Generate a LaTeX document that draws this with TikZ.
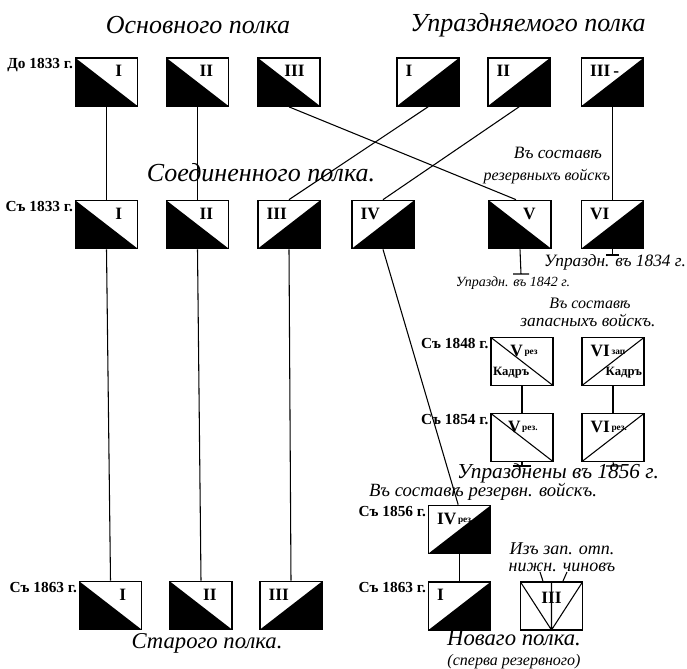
\documentclass[tikz,border=0pt]{standalone}
\usepackage{fontspec}
\setmainfont{Liberation Serif}
\usetikzlibrary{positioning}

\tikzset{
  unit/.style={draw, line width=1.3pt, minimum width=46.5pt, minimum height=36pt, inner sep=0pt},
  darkleft/.style={unit, path picture={\fill (path picture bounding box.north west) -- (path picture bounding box.south west) -- (path picture bounding box.south east) -- cycle;}},
  darkright/.style={unit, path picture={\fill (path picture bounding box.south west) -- (path picture bounding box.south east) -- (path picture bounding box.north east) -- cycle;}},
  cutdown/.style={unit, path picture={\draw[line width=0.8pt] (path picture bounding box.north west) -- (path picture bounding box.south east);}},
  cutup/.style={unit, path picture={\draw[line width=0.8pt] (path picture bounding box.south west) -- (path picture bounding box.north east);}},
  cutfan/.style={unit, path picture={\draw[line width=0.8pt] (path picture bounding box.north west) -- (path picture bounding box.south) -- (path picture bounding box.north east) (path picture bounding box.north) -- (path picture bounding box.south);}},
  roman/.style={font=\bfseries\fontsize{13}{13}\selectfont, inner sep=0pt},
  romanNE/.style={label={[roman, anchor=north east, inner xsep=12pt, inner ysep=6pt]north east:#1}},
  romanNW/.style={label={[roman, anchor=north west, inner xsep=7pt, inner ysep=6pt]north west:#1}},
  kadrSW/.style={label={[kadr, anchor=south west]south west:Кадръ}},
  kadrSE/.style={label={[kadr, anchor=south east]south east:Кадръ}},
  kadr/.style={font=\bfseries\fontsize{9.5}{9.5}\selectfont, inner xsep=2pt, inner ysep=6pt},
  heading/.style={font=\itshape\fontsize{19.5}{19.5}\selectfont, inner sep=0.75pt},
  remark/.style={font=\itshape\fontsize{13}{13}\selectfont, inner sep=0.75pt},
  since/.style={font=\bfseries\fontsize{11.5}{11.5}\selectfont, inner sep=1pt, anchor=north east},
  link/.style={line width=0.8pt},
}
\newcommand{\rezsub}[1]{{\fontsize{7}{7}\selectfont\,\raisebox{1.5pt}{#1}}}

\begin{document}
\begin{tikzpicture}[x=0.75pt,y=0.75pt,yscale=-1,xscale=1]
\useasboundingbox (0,0) rectangle (687,669);

%Units before 1833
\node[darkleft, romanNE=I] (o1) at (106.5,82) {};
\node[darkleft, romanNE=II] (o2) at (197.5,82) {};
\node[darkleft, romanNE=III] (o3) at (289,82) {};
\node[darkright, romanNW=I] (u1) at (428,82) {};
\node[darkright, romanNW=II] (u2) at (519,82) {};
\node[darkright, romanNW=III\,-] (u3) at (612.5,82) {};

%Units from 1833
\node[darkleft, romanNE=I] (c1) at (106.5,224.5) {};
\node[darkleft, romanNE=II] (c2) at (197.5,224.5) {};
\node[darkright, romanNW=III] (c3) at (289,224.5) {};
\node[darkright, romanNW=IV] (c4) at (383,224.5) {};
\node[darkleft, romanNE=V] (c5) at (520,224.5) {};
\node[darkright, romanNW=VI] (c6) at (612.5,224.5) {};

%Reserve units
\node[cutdown, romanNE={V\rezsub{рез}}, kadrSW] (r5a) at (522,361.5) {};
\node[cutup, romanNW={VI\rezsub{зап}}, kadrSE] (r6a) at (613,361.5) {};
\node[cutdown, romanNE={V\rezsub{рез.}}] (r5b) at (522,437.5) {};
\node[cutup, romanNW={VI\rezsub{рез.}}] (r6b) at (613,437.5) {};
\node[darkright, romanNW={IV\rezsub{рез.}}] (r4) at (459.5,529.5) {};

%Units from 1863
\node[darkleft, romanNE=I] (s1) at (110.5,605.5) {};
\node[darkleft, romanNE=II] (s2) at (201,605.5) {};
\node[darkright, romanNW=III] (s3) at (291,605.5) {};
\node[darkright, romanNW=I] (n1) at (459.5,606) {};
\node[cutfan] (n3) at (551.5,606) {};
\node[roman] (n3num) at (551.5,598) {III};

%Stops and free ends
\coordinate (e5) at (521,274);
\coordinate (e6) at (612.5,255);
\coordinate (e5b) at (522,466);
\coordinate (e6b) at (614,466);
\coordinate (i1) at (540,572);
\coordinate (i2) at (567,572);

%Straight Lines
\draw[link] (o1.south) -- (c1.north);
\draw[link] (o2.south) -- (c2.north);
\draw[link] (o3.south) -- ([xshift=-3pt]c5.north);
\draw[link] (u1.south) -- (c3.north);
\draw[link] (u2.south) -- (c4.north);
\draw[link] (u3.south) -- (c6.north);
\draw[link] (c1.south) -- (s1.north);
\draw[link] (c2.south) -- (s2.north);
\draw[link] (c3.south) -- (s3.north);
\draw[link] (c4.south) -- ([xshift=-1pt]r4.north);
\draw[link] (c5.south) -- (e5) ++(-6pt,0) -- ++(12pt,0);
\draw[link] (c6.south) -- (e6) ++(-5pt,0) -- ++(10pt,0);
\draw[link] (r5a.south) -- (r5b.north);
\draw[link] (r6a.south) -- (r6b.north);
\draw[link] (r5b.south) -- (e5b) ++(-7pt,0) -- ++(14pt,0);
\draw[link] (r6b.south) -- (e6b) ++(-6pt,0) -- ++(12pt,0);
\draw[link] (r4.south) -- (n1.north);
\draw[link] (i1) -- ([xshift=-6.4pt]n3.north);
\draw[link] (i2) -- ([xshift=8.6pt]n3.north);

% Text Node
\node[heading] (tmain) at (198,25) {Основного полка};
\node[heading] (tabol) at (528,25) {Упраздняемого полка};
\node[heading] (tjoin) at (261,173) {Соединенного полка.};
\node[heading, font=\itshape\fontsize{17}{17}\selectfont] (told) at (207,643) {Старого полка.};
\node[heading, align=center, font=\itshape\fontsize{17}{15}\selectfont] (tnew) at (514,650) {Новаго полка.\\{\fontsize{12}{12}\selectfont(сперва резервного)}};
\node[remark] (tres1) at (558,153) {Въ составѣ};
\node[remark, font=\itshape\fontsize{12}{12}\selectfont] (tres2) at (547,177) {резервныхъ войскъ};
\node[remark] (tab34) at (615,262) {Упраздн. въ 1834 г.};
\node[remark, font=\itshape\fontsize{10.5}{10.5}\selectfont] (tab42) at (513,283) {Упраздн. въ 1842 г.};
\node[remark, font=\itshape\fontsize{12}{12}\selectfont] (tzap1) at (590,303) {Въ составѣ};
\node[remark] (tzap2) at (588,320) {запасныхъ войскъ.};
\node[remark, font=\itshape\fontsize{16}{16}\selectfont] (tab56) at (558,473) {Упразднены въ 1856 г.};
\node[remark, font=\itshape\fontsize{14}{14}\selectfont] (tres3) at (483,492) {Въ составѣ резервн. войскъ.};
\node[remark, align=center, font=\itshape\fontsize{13.5}{12.5}\selectfont] (tfrom) at (562,557) {Изъ зап. отп.\\нижн. чиновъ};

% Year Nodes
\node[since] (y1) at (o1.north west) {До 1833 г.};
\node[since] (y2) at (c1.north west) {Съ 1833 г.};
\node[since] (y3) at (s1.north west) {Съ 1863 г.};
\node[since] (y4) at (r5a.north west) {Съ 1848 г.};
\node[since] (y5) at (r5b.north west) {Съ 1854 г.};
\node[since] (y6) at (r4.north west) {Съ 1856 г.};
\node[since] (y7) at (n1.north west) {Съ 1863 г.};

\end{tikzpicture}
\end{document}
